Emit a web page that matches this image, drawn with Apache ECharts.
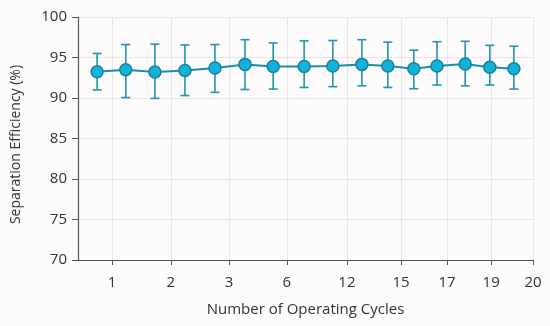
<!DOCTYPE html>
<html>
<head>
<meta charset="utf-8">
<script src="https://cdn.jsdelivr.net/npm/echarts@6/dist/echarts.min.js"></script>
<style>
html,body{margin:0;padding:0;background:#fdfbfc;}
#chart{width:550px;height:326px;}
</style>
</head>
<body>
<div id="chart"></div>
<script>
// x axis is a non-linear position scale (0-100); tick labels at these positions
var tickPositions = [7.5, 20.4, 33.2, 45.9, 59.1, 71.0, 81.1, 90.8, 100];
var tickLabels = ['1', '2', '3', '6', '12', '15', '17', '19', '20'];
// point positions on the same scale
var pointPositions = [4.2, 10.5, 16.9, 23.5, 30.1, 36.7, 42.9, 49.7, 56.0, 62.4, 68.1, 73.8, 78.9, 85.1, 90.5, 95.8];
var efficiency = [93.25, 93.5, 93.2, 93.4, 93.7, 94.15, 93.9, 93.9, 93.95, 94.15, 93.95, 93.6, 93.95, 94.2, 93.8, 93.6];
var errUpper = [95.5, 96.6, 96.65, 96.55, 96.6, 97.2, 96.8, 97.05, 97.1, 97.2, 96.9, 95.9, 96.95, 97.0, 96.5, 96.4];
var errLower = [91.0, 90.05, 89.95, 90.3, 90.7, 91.05, 91.1, 91.3, 91.4, 91.5, 91.3, 91.15, 91.6, 91.5, 91.6, 91.1];
var yTicks = [70, 75, 80, 85, 90, 95, 100];

var lineData = pointPositions.map(function (x, i) { return [x, efficiency[i]]; });
var errData = pointPositions.map(function (x, i) { return [x, errLower[i], errUpper[i]]; });

var chart = echarts.init(document.getElementById('chart'), null, {renderer: 'canvas'});
var font = '"Open Sans", "Noto Sans", sans-serif';
var errColor = '#2393b0';
chart.setOption({
  backgroundColor: '#fdfbfc',
  animation: false,
  grid: {left: 78, right: 17, top: 17, bottom: 66},
  xAxis: {
    type: 'value', min: 0, max: 100,
    name: 'Number of Operating Cycles', nameLocation: 'middle', nameGap: 42,
    nameTextStyle: {fontFamily: font, fontSize: 15, color: '#333'},
    axisLine: {show: true, lineStyle: {color: '#555', width: 1.2}},
    axisTick: {show: true, customValues: tickPositions, length: 5, lineStyle: {color: '#555'}},
    axisLabel: {customValues: tickPositions, fontFamily: font, fontSize: 15, color: '#333', margin: 15,
      formatter: function (v) {
        for (var i = 0; i < tickPositions.length; i++) { if (Math.abs(tickPositions[i] - v) < 0.01) return tickLabels[i]; }
        return '';
      }},
    splitLine: {show: true, lineStyle: {color: '#e9e6e9', width: 1}}
  },
  yAxis: {
    type: 'value', min: yTicks[0], max: yTicks[yTicks.length - 1], interval: 5,
    name: 'Separation Efficiency (%)', nameLocation: 'middle', nameGap: 55,
    nameTextStyle: {fontFamily: font, fontSize: 14, color: '#333', padding: [0, 12, 0, 0]},
    axisLine: {show: true, lineStyle: {color: '#555', width: 1.2}},
    axisTick: {show: true, length: 6, lineStyle: {color: '#555'}},
    axisLabel: {fontFamily: font, fontSize: 15, color: '#333', margin: 11},
    splitLine: {show: true, lineStyle: {color: '#e9e6e9', width: 1}}
  },
  series: [
    {
      type: 'custom',
      data: errData,
      z: 2,
      renderItem: function (params, api) {
        var x = api.value(0);
        var lo = api.coord([x, api.value(1)]);
        var hi = api.coord([x, api.value(2)]);
        var hw = 4.5;
        var style = {stroke: errColor, lineWidth: 1.6, fill: null};
        return {
          type: 'group',
          children: [
            {type: 'line', shape: {x1: lo[0], y1: lo[1], x2: hi[0], y2: hi[1]}, style: style},
            {type: 'line', shape: {x1: hi[0] - hw, y1: hi[1], x2: hi[0] + hw, y2: hi[1]}, style: style},
            {type: 'line', shape: {x1: lo[0] - hw, y1: lo[1], x2: lo[0] + hw, y2: lo[1]}, style: style}
          ]
        };
      }
    },
    {
      type: 'line',
      data: lineData,
      z: 3,
      symbol: 'circle',
      symbolSize: 12,
      lineStyle: {color: '#1b8eab', width: 2},
      itemStyle: {color: '#12b3d8', borderColor: '#17809d', borderWidth: 1.5}
    }
  ]
});
</script>
</body>
</html>
